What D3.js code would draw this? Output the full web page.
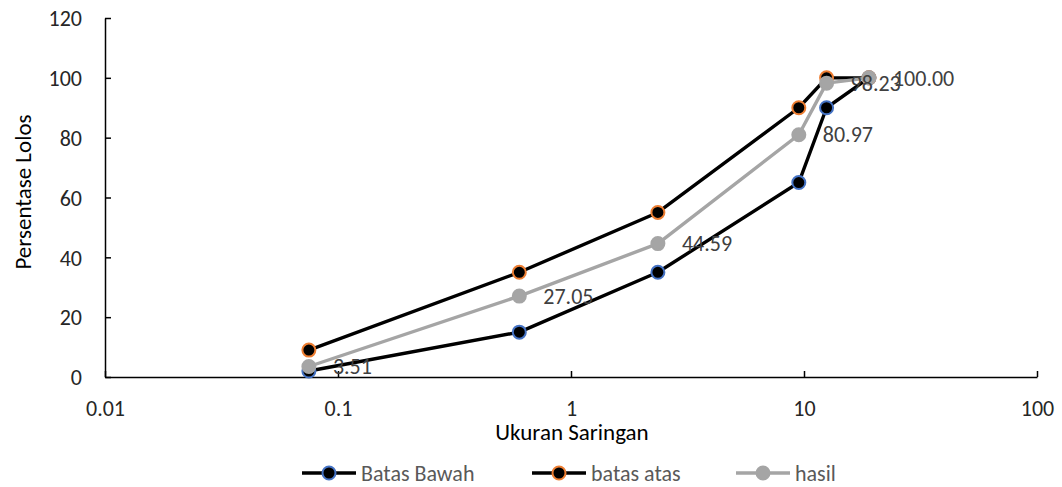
<!DOCTYPE html>
<html><head><meta charset="utf-8">
<script src="https://cdn.jsdelivr.net/npm/d3@7"></script>
<style>body{margin:0;background:#fff;} text{font-family:Carlito,Calibri,Lato,"Liberation Sans",Arial,sans-serif;}</style>
</head><body><svg id="c" width="1062" height="487"></svg>
<script>
const sieve = [0.075, 0.6, 2.36, 9.5, 12.5, 19];
const batasBawah = [2, 15, 35, 65, 90, 100];
const batasAtas = [9, 35, 55, 90, 100, 100];
const hasil = [3.51, 27.05, 44.59, 80.97, 98.23, 100.00];
const xTicks = [0.01, 0.1, 1, 10, 100];
const yTicks = [0, 20, 40, 60, 80, 100, 120];
const seriesNames = ["Batas Bawah", "batas atas", "hasil"];

const svg = d3.select("#c");
const x = d3.scaleLog().domain([0.01, 100]).range([105, 1037]);
const y = d3.scaleLinear().domain([0, 120]).range([377, 18]);

const xa = svg.append("g").attr("transform","translate(0,377)")
  .call(d3.axisBottom(x).tickValues(xTicks).tickFormat(d=>String(d)).tickSizeInner(-6).tickSizeOuter(0));
const ya = svg.append("g").attr("transform","translate(105,0)")
  .call(d3.axisLeft(y).tickValues(yTicks).tickSizeInner(-6).tickSizeOuter(0));
[xa, ya].forEach(a=>{
  a.selectAll("path,line").attr("stroke","#000").attr("stroke-width",1.5);
  a.selectAll("text").attr("fill","#262626").attr("font-size",22);
});
xa.selectAll("text").attr("y",31).attr("dy","0.35em");
ya.selectAll("text").attr("x",-23).attr("dy","0.35em");

svg.append("text").attr("x",572).attr("y",440).attr("text-anchor","middle")
  .attr("font-size",23).attr("fill","#000").text("Ukuran Saringan");
svg.append("text").attr("transform","translate(31,192) rotate(-90)").attr("text-anchor","middle")
  .attr("font-size",23).attr("fill","#000").text("Persentase Lolos");

const series = [
  {name:seriesNames[0], vals:batasBawah, line:"#000", fill:"#000", stroke:"#4472C4"},
  {name:seriesNames[1], vals:batasAtas, line:"#000", fill:"#000", stroke:"#ED7D31"},
  {name:seriesNames[2], vals:hasil, line:"#A5A5A5", fill:"#A5A5A5", stroke:"#A5A5A5"}
];
const line = d3.line().x(d=>x(d[0])).y(d=>y(d[1]));
series.forEach(s=>{
  const pts = sieve.map((v,i)=>[v, s.vals[i]]);
  svg.append("path").attr("d", line(pts)).attr("fill","none").attr("stroke", s.line).attr("stroke-width",3.4).attr("stroke-linejoin","round");
  svg.selectAll(null).data(pts).enter().append("circle")
    .attr("cx",d=>x(d[0])).attr("cy",d=>y(d[1])).attr("r",6.5)
    .attr("fill",s.fill).attr("stroke",s.stroke).attr("stroke-width",2);
});
svg.selectAll(null).data(sieve.map((v,i)=>[v,hasil[i]])).enter().append("text")
  .attr("x",d=>x(d[0])+24).attr("y",d=>y(d[1])).attr("dy","0.35em")
  .attr("font-size",22).attr("fill","#404040").text(d=>d[1].toFixed(2));

const legX = [302, 532, 736];
series.forEach((s,i)=>{
  const g = svg.append("g").attr("transform",`translate(${legX[i]},473)`);
  g.append("line").attr("x1",0).attr("x2",54).attr("stroke",s.line).attr("stroke-width",3.4);
  g.append("circle").attr("cx",27).attr("r",6.5).attr("fill",s.fill).attr("stroke",s.stroke).attr("stroke-width",2);
  g.append("text").attr("x",59).attr("dy","0.35em").attr("font-size",22).attr("fill","#595959").text(s.name);
});
</script></body></html>
